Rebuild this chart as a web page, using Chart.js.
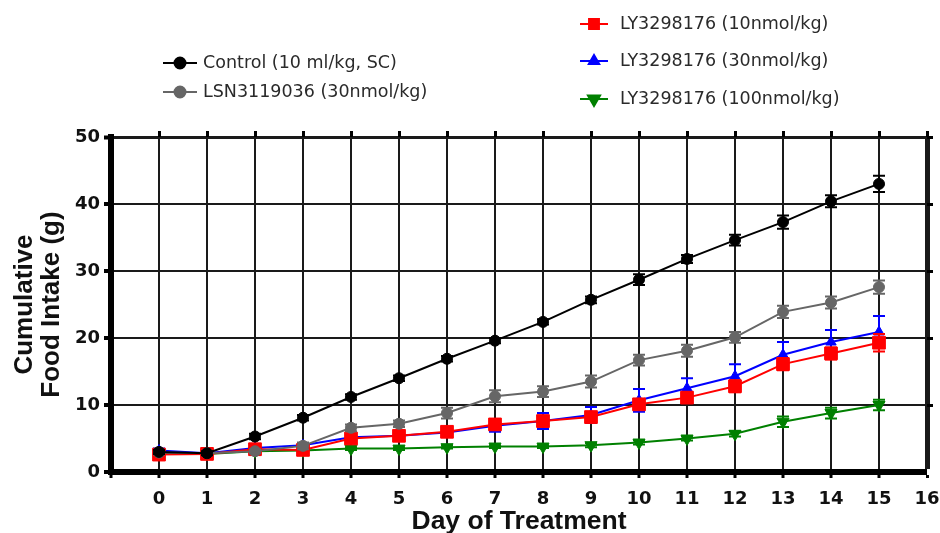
<!DOCTYPE html>
<html>
<head>
<meta charset="utf-8">
<script src="https://cdn.jsdelivr.net/npm/chart.js@4.4.1/dist/chart.umd.min.js"></script>
<style>
  body { margin: 0; background: #fff; }
  canvas { display: block; }
</style>
</head>
<body>
<canvas id="foodChart" width="940" height="533"></canvas>
<script>
// data (mean and error bar half-heights)
const days = [0, 1, 2, 3, 4, 5, 6, 7, 8, 9, 10, 11, 12, 13, 14, 15];
const seriesNames = ["Control (10 ml/kg, SC)", "LSN3119036 (30nmol/kg)", "LY3298176 (10nmol/kg)", "LY3298176 (30nmol/kg)", "LY3298176 (100nmol/kg)"];
const control = [3.0, 2.8, 5.3, 8.1, 11.2, 14.0, 16.9, 19.6, 22.4, 25.7, 28.7, 31.8, 34.6, 37.3, 40.4, 43.0];
const lsn = [2.9, 2.8, 3.1, 3.9, 6.6, 7.2, 8.8, 11.3, 12.0, 13.5, 16.7, 18.1, 20.1, 23.9, 25.3, 27.6];
const ly10 = [2.6, 2.7, 3.4, 3.3, 5.0, 5.4, 6.0, 7.1, 7.6, 8.2, 10.1, 11.1, 12.8, 16.1, 17.7, 19.3];
const ly30 = [3.2, 2.8, 3.6, 4.0, 5.2, 5.4, 5.9, 6.9, 7.6, 8.5, 10.7, 12.5, 14.3, 17.5, 19.4, 20.9];
const ly100 = [2.8, 2.7, 3.1, 3.2, 3.5, 3.5, 3.7, 3.8, 3.8, 4.0, 4.4, 5.0, 5.7, 7.5, 8.8, 10.0];
const controlErr = [0.3, 0.3, 0.4, 0.4, 0.4, 0.4, 0.4, 0.4, 0.4, 0.5, 0.8, 0.6, 0.8, 1.0, 0.9, 1.2];
const lsnErr = [0.3, 0.3, 0.3, 0.5, 0.5, 0.5, 0.8, 0.9, 0.8, 0.9, 0.8, 0.9, 0.8, 0.9, 0.9, 1.0];
const ly10Err = [0.3, 0.3, 0.3, 0.3, 0.6, 0.6, 0.6, 0.8, 0.8, 0.6, 0.7, 0.8, 0.9, 0.9, 0.9, 1.3];
const ly30Err = [0.3, 0.3, 0.3, 0.3, 0.4, 0.4, 0.6, 0.9, 1.2, 1.2, 1.7, 1.5, 1.8, 1.9, 1.8, 2.4];
const ly100Err = [0.2, 0.2, 0.2, 0.2, 0.2, 0.2, 0.2, 0.2, 0.2, 0.3, 0.3, 0.3, 0.4, 0.8, 0.8, 0.8];

const FONT = "DejaVu Sans";
const TITLE_FONT = "Liberation Sans";

function pts(vals) {
  return days.map((d, i) => ({ x: d, y: vals[i] }));
}

function series(i, vals, errs, color, style, radius, rotation) {
  return {
    label: seriesNames[i],
    data: pts(vals),
    errors: errs,
    borderColor: color,
    backgroundColor: color,
    borderWidth: 2,
    pointStyle: style,
    pointRadius: radius,
    pointRotation: rotation || 0,
    pointBackgroundColor: color,
    pointBorderColor: color,
    pointBorderWidth: 1,
    tension: 0
  };
}

// error bars drawn under each dataset's markers
const errorBars = {
  id: "errorBars",
  beforeDatasetDraw(chart, args) {
    const ds = chart.data.datasets[args.index];
    const meta = args.meta;
    const y = chart.scales.y;
    const ctx = chart.ctx;
    ctx.save();
    ctx.strokeStyle = ds.borderColor;
    ctx.lineWidth = 2;
    meta.data.forEach((p, j) => {
      const v = ds.data[j].y, e = ds.errors[j];
      const top = y.getPixelForValue(v + e), bot = y.getPixelForValue(v - e);
      ctx.beginPath();
      ctx.moveTo(p.x, top); ctx.lineTo(p.x, bot);
      ctx.moveTo(p.x - 6, top); ctx.lineTo(p.x + 6, top);
      ctx.moveTo(p.x - 6, bot); ctx.lineTo(p.x + 6, bot);
      ctx.stroke();
    });
    ctx.restore();
  }
};

// two-column legend above the plot
const sideLegend = {
  id: "sideLegend",
  afterDraw(chart) {
    const ctx = chart.ctx;
    const spots = [
      { x1: 163, x2: 197, tx: 203, y: 63 },
      { x1: 163, x2: 197, tx: 203, y: 92 },
      { x1: 580, x2: 608, tx: 620, y: 24 },
      { x1: 580, x2: 608, tx: 620, y: 61 },
      { x1: 580, x2: 608, tx: 620, y: 99 }
    ];
    ctx.save();
    chart.data.datasets.forEach((ds, i) => {
      const s = spots[i];
      ctx.strokeStyle = ds.borderColor;
      ctx.fillStyle = ds.borderColor;
      ctx.lineWidth = 2;
      ctx.beginPath();
      ctx.moveTo(s.x1, s.y); ctx.lineTo(s.x2, s.y);
      ctx.stroke();
      Chart.helpers.drawPoint(ctx, {
        pointStyle: ds.pointStyle,
        radius: Math.min(ds.pointRadius, 7),
        rotation: ds.pointRotation,
        borderWidth: 1
      }, (s.x1 + s.x2) / 2, s.y);
      ctx.fillStyle = "#2a2a2a";
      ctx.font = "17.5px '" + FONT + "'";
      ctx.textBaseline = "middle";
      ctx.textAlign = "left";
      ctx.fillText(ds.label, s.tx, s.y);
    });
    ctx.restore();
  }
};

const tickFont = { family: FONT, weight: "bold", size: 18 };

new Chart(document.getElementById("foodChart"), {
  type: "line",
  data: {
    datasets: [
      series(0, control, controlErr, "#000000", "circle", 5.5),
      series(1, lsn, lsnErr, "#666666", "circle", 5.5),
      series(2, ly10, ly10Err, "#ff0000", "rect", 9),
      series(3, ly30, ly30Err, "#0000ff", "triangle", 6),
      series(4, ly100, ly100Err, "#008000", "triangle", 7, 180)
    ]
  },
  plugins: [errorBars, sideLegend],
  options: {
    responsive: false,
    animation: false,
    devicePixelRatio: 1,
    layout: { padding: { top: 131, right: 7, left: 0, bottom: 0 } },
    plugins: {
      legend: { display: false },
      tooltip: { enabled: false }
    },
    scales: {
      x: {
        type: "linear",
        min: -1,
        max: 16,
        afterFit: s => { s.height = 61; s.paddingLeft = 0; s.paddingRight = 0; },
        ticks: {
          stepSize: 1,
          autoSkip: false,
          maxRotation: 0,
          padding: 11,
          color: "#111",
          font: tickFont,
          callback: v => (v < 0 ? "" : v)
        },
        grid: {
          color: "#1a1a1a",
          lineWidth: c => (c.tick && c.tick.value === 16 ? 5 : c.tick && c.tick.value < 0 ? 0 : 2),
          tickLength: 6,
          tickWidth: 3,
          tickColor: "#000"
        },
        border: { color: "#000", width: 6 },
        title: {
          display: true,
          text: "Day of Treatment",
          color: "#111",
          font: { family: TITLE_FONT, weight: "bold", size: 26.5, lineHeight: 0.88 },
          padding: { top: 0, bottom: 0 }
        }
      },
      y: {
        min: 0,
        max: 50,
        afterFit: s => { s.width = 111; s.paddingTop = 0; s.paddingBottom = 0; },
        ticks: { stepSize: 10, padding: 4, color: "#111", font: tickFont },
        grid: {
          color: "#1a1a1a",
          lineWidth: c => (c.tick && c.tick.value === 50 ? 3 : c.tick && c.tick.value === 0 ? 0 : 2),
          tickLength: 7,
          tickWidth: 4,
          tickColor: "#000"
        },
        border: { color: "#000", width: 6 },
        title: {
          display: true,
          text: ["Cumulative", "Food Intake (g)"],
          color: "#111",
          font: { family: TITLE_FONT, weight: "bold", size: 26, lineHeight: 1.04 },
          padding: { top: 11, bottom: 0 }
        }
      },
      x2: {
        type: "linear",
        position: "top",
        min: -1,
        max: 16,
        afterFit: s => { s.height = 6; s.paddingLeft = 0; s.paddingRight = 0; },
        ticks: { display: false, stepSize: 1 },
        grid: {
          drawOnChartArea: false,
          tickLength: 6,
          color: "#000",
          lineWidth: c => (c.tick && c.tick.value < 0 ? 0 : 3)
        },
        border: { display: false }
      },
      y2: {
        position: "right",
        min: 0,
        max: 50,
        afterFit: s => { s.width = 6; },
        ticks: { display: false, stepSize: 10 },
        grid: {
          drawOnChartArea: false,
          tickLength: 6,
          color: "#000",
          lineWidth: c => (c.tick && c.tick.value === 0 ? 0 : 3)
        },
        border: { display: false }
      }
    }
  }
});
</script>
</body>
</html>
